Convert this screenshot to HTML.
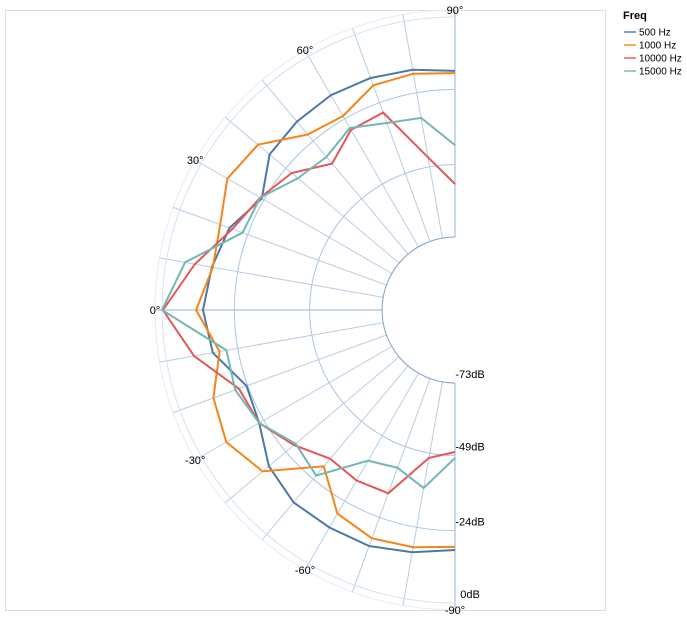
<!DOCTYPE html>
<html><head><meta charset="utf-8"><style>
body{margin:0;background:#fff;font-family:"Liberation Sans",sans-serif;}
svg text{font-family:"Liberation Sans",sans-serif;}
</style></head><body>
<svg id="chart" width="687" height="621">
<rect x="5.5" y="10.5" width="600" height="600" fill="none" stroke="#ddd"/>
<g id="grid"></g>
<g id="series"></g>
<g id="labels"></g>
<g>
<text x="623" y="19" font-size="11" font-weight="bold" fill="#000">Freq</text>
<g id="legend"></g>
</g>
</svg>
<script>
const angles = [90,80,70,60,50,40,30,20,10,0,-10,-20,-30,-40,-50,-60,-70,-80,-90];
const seriesNames = ["500 Hz","1000 Hz","10000 Hz","15000 Hz"];
const s500 = [-17.9,-16.3,-15.3,-14.9,-15.6,-16.9,-23.2,-17.6,-15.3,-13.6,-15.6,-23.6,-22.2,-16.6,-13.9,-13.9,-13.9,-15.6,-17.6];
const s1000 = [-18.6,-17.6,-17.9,-22.9,-21.2,-11.9,-10.0,-14.3,-15.6,-11.3,-17.9,-11.9,-9.6,-13.9,-29.5,-19.2,-16.6,-17.3,-18.6];
const s10000 = [-55.4,-45.8,-27.5,-28.2,-33.8,-26.5,-22.6,-18.6,-9.6,-0.3,-9.3,-20.9,-22.2,-27.5,-32.8,-31.9,-32.5,-47.4,-50.1];
const s15000 = [-42.5,-32.5,-31.2,-27.5,-30.9,-29.2,-22.6,-22.2,-6.3,0,-20.2,-19.6,-22.2,-28.2,-25.5,-39.5,-41.5,-37.2,-48.1];
const rTicks = [-73,-49,-24,0];
const rTickLabels = ["-73dB","-49dB","-24dB","0dB"];
const aTicks = [90,60,30,0,-30,-60,-90];

const colors = ["#4c78a8","#f58518","#e45756","#72b7b2"];
const cx=455, cy=310, r0=73, r1=293, rOuter=300, dMin=-73, dMax=0;
const NS="http://www.w3.org/2000/svg";
function rScale(v){return r0+(v-dMin)/(dMax-dMin)*(r1-r0);}
function pt(a,r){const t=a*Math.PI/180;return [cx-r*Math.cos(t), cy-r*Math.sin(t)];}
function mk(tag,attrs,parent){const e=document.createElementNS(NS,tag);for(const k in attrs)e.setAttribute(k,attrs[k]);parent.appendChild(e);return e;}
function arc(r){const a=pt(90,r),b=pt(-90,r);return `M${a[0]},${a[1]} A${r},${r} 0 0 0 ${b[0]},${b[1]}`;}
const grid=document.getElementById('grid');
let e=mk('path',{d:arc(rOuter),fill:'none',stroke:'#e4edf6','stroke-width':1},grid);


for(let a=-90;a<=90;a+=10){
  const p=pt(a,r0),q=pt(a,rOuter);
  e=mk('line',{x1:p[0],y1:p[1],x2:q[0],y2:q[1],stroke:(a===0||Math.abs(a)===90)?'#c9d9ea':'#b9cde2','stroke-width':(a===0||Math.abs(a)===90)?2:1},grid);
  
  
}
rTicks.forEach((v,i)=>{
  e=mk('path',{d:arc(rScale(v)),fill:'none',stroke:i===0?'#7fa1c6':(i===3?'#d3e2f0':'#a9c5e2'),'stroke-width':1},grid);
  
  
});
const sg=document.getElementById('series');
[s500,s1000,s10000,s15000].forEach((vals,si)=>{
  const d=vals.map((v,i)=>{const p=pt(angles[i],rScale(v));return (i?'L':'M')+p[0].toFixed(1)+','+p[1].toFixed(1);}).join(' ');
  const l=mk('path',{d:d,fill:'none',stroke:colors[si],'stroke-width':2},sg);
  
  
});
const lg=document.getElementById('labels');
rTicks.forEach((v,i)=>{
  const t=mk('text',{x:470,y:cy+rScale(v)-5,'font-size':11,'text-anchor':'middle',fill:'#000'},lg);
  t.textContent=rTickLabels[i];
  
  
});
aTicks.forEach(a=>{
  const p=pt(a,rOuter);
  let x=p[0], y=p[1]+4;
  if(a===90){x=455;y=14;} if(a===-90){x=455;y=614;}
  const t=mk('text',{x:x,y:y,'font-size':11,'text-anchor':'middle',fill:'#000'},lg);
  t.textContent=a+'°';
  
  
});
const leg=document.getElementById('legend');
seriesNames.forEach((n,i)=>{
  const y=32+i*13;
  const g=mk('g',{},leg);
  
  
  mk('line',{x1:624,x2:636,y1:y,y2:y,stroke:colors[i],'stroke-width':2,opacity:0.7},g);
  const t=mk('text',{x:639,y:y+3.5,'font-size':10,fill:'#000'},g);
  t.textContent=n;
});
</script>
</body></html>
